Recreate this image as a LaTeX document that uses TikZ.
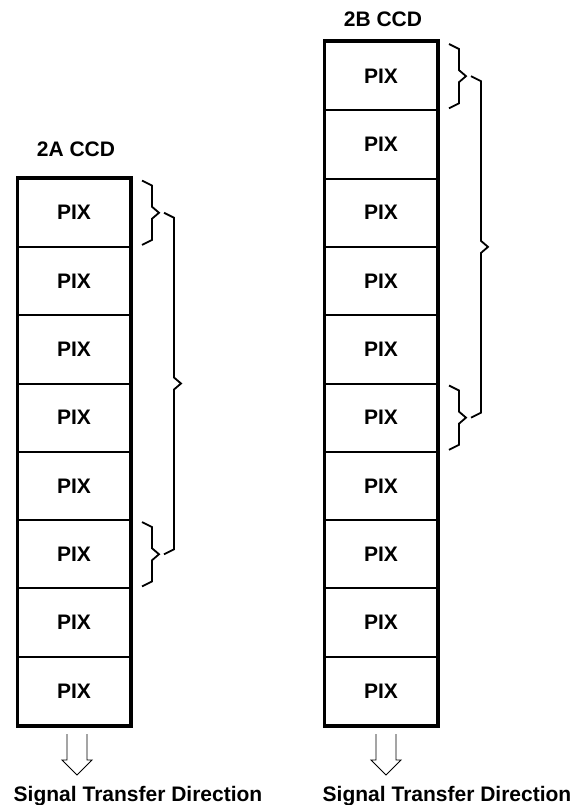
\documentclass[tikz,border=0pt]{standalone}
\usepackage{fontspec}
\setmainfont{Liberation Sans}
\usetikzlibrary{calc}
\tikzset{
  every picture/.style={font=\fontsize{21}{24}\selectfont\bfseries},
  cell/.style={draw, line width=2pt, minimum width=112pt, minimum height=68.3pt, inner sep=0pt},
  frame/.style={draw, line width=3pt},
  bracestroke/.style={line width=1.8pt, line join=miter},
  flow/.style={line width=0.9pt},
  ccdlabel/.style={anchor=base},
  dirlabel/.style={anchor=base},
}
% angular brace: #1 upper anchor, #2 lower anchor, #3 gap to column, #4 inset at both ends
\newcommand{\pixbrace}[4]{%
  \draw[bracestroke] let \p1=($(#1)+(#3,-#4)$), \p2=($(#2)+(#3,#4)$), \p3=($(\p1)!0.5!(\p2)$) in
    (\x1,\y1) -- (\x1+10pt,\y1-5pt) -- (\x1+10pt,\y3+6pt) -- (\x1+17pt,\y3)
    -- (\x1+10pt,\y3-6pt) -- (\x1+10pt,\y2+5pt) -- (\x1,\y2);}

\begin{document}
\begin{tikzpicture}[x=1pt, y=-1pt]
  \useasboundingbox (0,0) rectangle (573,805);
  % 2A CCD
  \node[ccdlabel] (alab) at (76,157) {2A CCD};
  \foreach \i in {1,...,8}
    \node[cell] (a\i) at (74,{178.6+(\i-0.5)*68.3}) {PIX};
  \draw[frame] (a1.north west) rectangle (a8.south east);
  \pixbrace{a1.north east}{a1.south east}{11pt}{3pt}
  \pixbrace{a6.north east}{a6.south east}{11pt}{3pt}
  \pixbrace{a1.east}{a6.east}{33pt}{0pt}
  % 2B CCD
  \node[ccdlabel] (blab) at (383,27) {2B CCD};
  \foreach \i in {1,...,10}
    \node[cell] (b\i) at (381,{42+(\i-0.5)*68.3}) {PIX};
  \draw[frame] (b1.north west) rectangle (b10.south east);
  \pixbrace{b1.north east}{b1.south east}{11pt}{3pt}
  \pixbrace{b6.north east}{b6.south east}{11pt}{3pt}
  \pixbrace{b1.east}{b6.east}{33pt}{0pt}
  % transfer arrows
  \coordinate (atail) at (77,734);
  \coordinate (btail) at (386,734);
  \foreach \t in {atail,btail}
    \draw[flow] (\t) ++(-10,0) -- ++(0,26) -- ++(-5,0) -- ++(15,15) -- ++(15,-15) -- ++(-5,0) -- ++(0,-26);
  \node[dirlabel] (adir) at (138,801) {Signal Transfer Direction};
  \node[dirlabel] (bdir) at (447,801) {Signal Transfer Direction};
\end{tikzpicture}
\end{document}
